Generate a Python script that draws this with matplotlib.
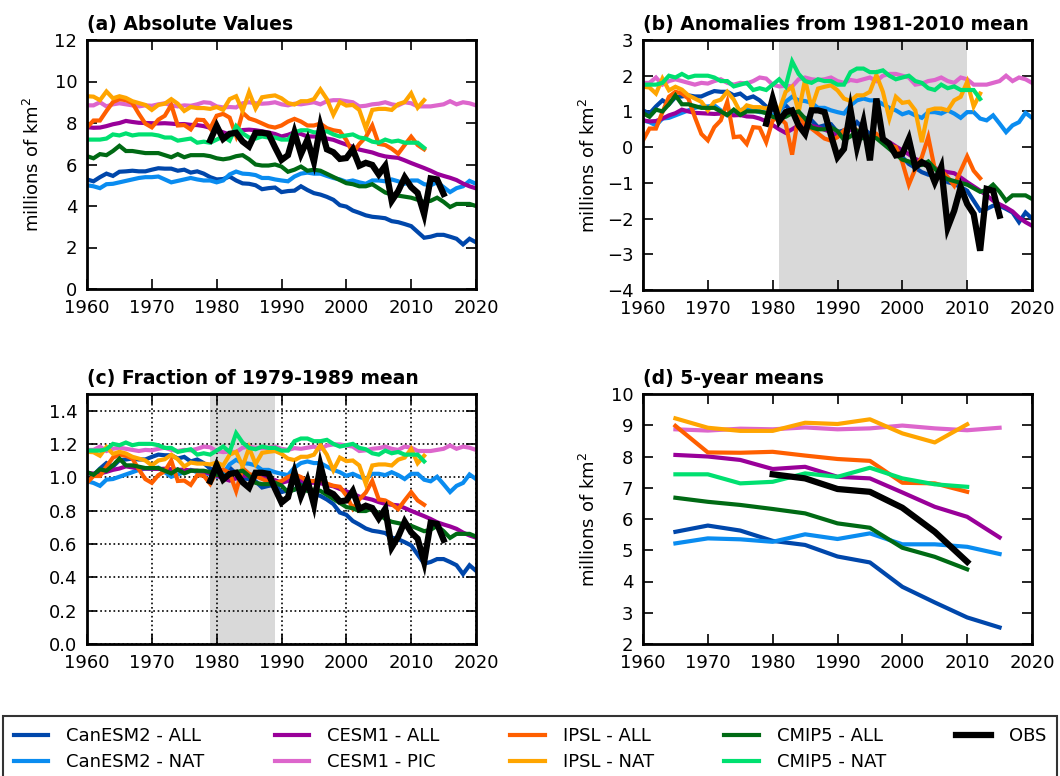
import numpy as np
import matplotlib.pyplot as plt

plt.rcParams['font.family'] = ['DejaVu Sans']
plt.rcParams['font.size'] = 13

years_full = np.arange(1960, 2021)
years_ipsl = np.arange(1960, 2013)
years_obs = np.arange(1979, 2016)

# anomalies (millions of km2) from the 1981-2010 mean of each model's ALL run
canesm2_all = [1.03, 0.94, 1.14, 1.31, 1.2, 1.4, 1.42, 1.45, 1.42, 1.42,
               1.5, 1.57, 1.55, 1.55, 1.45, 1.5, 1.36, 1.42, 1.31, 1.14,
               1.03, 1.05, 1.17, 0.98, 0.84, 0.82, 0.75, 0.56, 0.61, 0.64,
               0.42, 0.47, 0.49, 0.7, 0.52, 0.37, 0.3, 0.19, 0.05, -0.21,
               -0.28, -0.47, -0.58, -0.7, -0.77, -0.8, -0.84, -0.98, -1.03, -1.12,
               -1.22, -1.5, -1.78, -1.73, -1.64, -1.64, -1.73, -1.83, -2.1, -1.83,
               -2.0]
canesm2_nat = [0.75, 0.7, 0.61, 0.8, 0.82, 0.89, 0.96, 1.03, 1.1, 1.14,
               1.14, 1.17, 1.03, 0.89, 0.96, 1.03, 1.1, 1.03, 0.98, 0.98,
               0.89, 0.98, 1.27, 1.41, 1.31, 1.29, 1.24, 1.1, 1.1, 1.03,
               0.98, 0.94, 1.17, 1.31, 1.36, 1.31, 1.31, 1.2, 1.1, 1.03,
               0.92, 0.98, 0.89, 0.82, 0.98, 0.98, 0.94, 1.03, 0.94, 0.82,
               0.98, 0.98, 0.8, 0.75, 0.89, 0.66, 0.42, 0.61, 0.7, 0.96,
               0.82]
cesm1_all = [0.75, 0.72, 0.73, 0.8, 0.89, 0.95, 1.05, 1.0, 0.96, 0.95,
             0.94, 0.93, 0.94, 0.92, 0.89, 0.9, 0.86, 0.85, 0.8, 0.72,
             0.62, 0.5, 0.4, 0.5, 0.61, 0.63, 0.6, 0.55, 0.49, 0.42,
             0.3, 0.38, 0.5, 0.42, 0.3, 0.3, 0.28, 0.2, 0.14, 0.02,
             -0.09, -0.2, -0.33, -0.4, -0.47, -0.58, -0.66, -0.7, -0.73, -0.85,
             -0.98, -1.1, -1.22, -1.35, -1.5, -1.6, -1.69, -1.8, -1.97, -2.1,
             -2.2]
cesm1_pic = [1.8, 1.8, 1.95, 1.75, 1.85, 1.9, 1.85, 1.8, 1.75, 1.8,
             1.78, 1.85, 1.9, 1.8, 1.75, 1.8, 1.78, 1.85, 1.95, 1.92,
             1.75, 1.7, 1.72, 1.7, 1.9, 1.95, 1.9, 1.88, 1.9, 1.95,
             1.85, 1.8, 1.88, 1.85, 1.9, 1.95, 1.85, 2.0, 2.05, 2.05,
             2.0, 1.95, 1.75, 1.78, 1.85, 1.88, 1.95, 1.85, 1.8, 1.95,
             1.9, 1.75, 1.75, 1.75, 1.8, 1.85, 2.0, 1.85, 1.95, 1.9,
             1.8]
ipsl_all = [0.19, 0.52, 0.52, 0.98, 1.41, 1.55, 1.5, 1.36, 0.84, 0.37,
            0.19, 0.56, 0.75, 1.27, 0.28, 0.3, 0.09, 0.56, 0.54, 0.14,
            0.75, 0.84, 0.66, -0.21, 0.9, 0.62, 0.52, 0.38, 0.24, 0.18,
            0.28, 0.47, 0.6, 0.47, 0.28, 0.28, 0.37, 0.15, 0.05, 0.0,
            -0.42, -1.05, -0.61, -0.28, 0.28, -0.61, -0.66, -0.84, -1.08, -0.66,
            -0.26, -0.66, -0.87]
ipsl_nat = [1.69, 1.67, 1.5, 1.92, 1.59, 1.69, 1.61, 1.45, 1.36, 1.27,
            1.03, 1.27, 1.33, 1.55, 1.33, 0.98, 1.17, 1.12, 1.12, 1.08,
            1.17, 1.03, 1.55, 1.69, 0.98, 1.89, 1.1, 1.64, 1.69, 1.73,
            1.59, 1.36, 1.29, 1.45, 1.45, 1.55, 2.02, 1.55, 0.8, 1.41,
            1.24, 1.27, 1.03, 0.14, 1.03, 1.08, 1.08, 1.03, 1.31, 1.41,
            1.83, 1.14, 1.5]
cmip5_all = [0.95, 0.85, 1.05, 1.0, 1.2, 1.45, 1.2, 1.2, 1.15, 1.1,
             1.1, 1.1, 1.0, 0.9, 1.05, 0.9, 1.0, 1.0, 1.0, 0.95,
             0.85, 0.8, 0.85, 0.95, 1.0, 0.8, 0.55, 0.5, 0.5, 0.55,
             0.45, 0.2, 0.3, 0.45, 0.25, 0.3, 0.25, 0.1, -0.05, -0.2,
             -0.35, -0.4, -0.5, -0.5, -0.4, -0.6, -0.8, -0.9, -0.95, -1.0,
             -1.05, -1.15, -1.25, -1.2, -1.05, -1.25, -1.5, -1.35, -1.35, -1.35,
             -1.45]
cmip5_nat = [1.75, 1.75, 1.75, 1.8, 2.0, 1.95, 2.05, 1.95, 2.0, 2.0,
             2.0, 1.95, 1.85, 1.85, 1.7, 1.75, 1.8, 1.6, 1.65, 1.6,
             1.75, 1.9, 1.7, 2.4, 2.05, 1.85, 1.8, 1.9, 1.85, 1.85,
             1.75, 1.75, 2.1, 2.2, 2.2, 2.1, 2.1, 2.15, 2.0, 1.9,
             1.95, 2.0, 1.85, 1.8, 1.65, 1.6, 1.75, 1.65, 1.7, 1.6,
             1.6, 1.6, 1.35]
obs = [0.66, 1.36, 0.73, 0.98, 1.03, 0.61, 0.37, 1.03, 1.03, 0.98,
       0.33, -0.28, -0.05, 1.05, 0.0, 0.7, -0.37, 1.36, 0.23, 0.09,
       -0.23, -0.19, 0.23, -0.56, -0.42, -0.52, -0.98, -0.56, -2.25, -1.78,
       -1.12, -1.59, -1.87, -2.9, -1.17, -1.22, -1.92]

# 1981-2010 mean extent of each ALL run and of OBS (millions of km2)
base_canesm2 = 4.25
base_cesm1 = 7.05
base_ipsl = 7.6
base_cmip5 = 5.45
base_obs = 6.5

# 5-year means, panel (d)
yrs5_long = [1965, 1970, 1975, 1980, 1985, 1990, 1995, 2000, 2005, 2010, 2015]
yrs5_short = [1965, 1970, 1975, 1980, 1985, 1990, 1995, 2000, 2005, 2010]
yrs5_obs = [1980, 1985, 1990, 1995, 2000, 2005, 2010]
d_canesm2_all = [5.59, 5.79, 5.63, 5.3, 5.17, 4.8, 4.61, 3.83, 3.33, 2.85, 2.53]
d_canesm2_nat = [5.22, 5.38, 5.35, 5.27, 5.51, 5.36, 5.54, 5.19, 5.19, 5.11, 4.88]
d_cesm1_all = [8.05, 8.0, 7.89, 7.6, 7.67, 7.35, 7.3, 6.85, 6.39, 6.07, 5.41]
d_cesm1_pic = [8.87, 8.83, 8.89, 8.87, 8.93, 8.87, 8.9, 8.99, 8.9, 8.84, 8.92]
d_ipsl_all = [8.98, 8.13, 8.12, 8.15, 8.03, 7.92, 7.86, 7.16, 7.14, 6.87]
d_ipsl_nat = [9.22, 8.92, 8.82, 8.82, 9.08, 9.04, 9.19, 8.74, 8.45, 9.03]
d_cmip5_all = [6.68, 6.55, 6.45, 6.32, 6.18, 5.86, 5.72, 5.08, 4.79, 4.39]
d_cmip5_nat = [7.43, 7.43, 7.14, 7.19, 7.46, 7.35, 7.64, 7.3, 7.11, 7.03]
d_obs = [7.43, 7.3, 6.96, 6.87, 6.36, 5.59, 4.63]


def ref_1979_1989(years, anom, base):
    vals = np.asarray(anom) + base
    sel = (years >= 1979) & (years <= 1989)
    return vals[sel].mean()


# label, years, anomaly, base, ALL run used for panel (c), colour, lw, 5-yr x, 5-yr y
series = [
    ('CanESM2 - ALL', years_full, canesm2_all, base_canesm2, (years_full, canesm2_all), '#0047ab', 3, yrs5_long, d_canesm2_all),
    ('CanESM2 - NAT', years_full, canesm2_nat, base_canesm2, (years_full, canesm2_all), '#0a8cf0', 3, yrs5_long, d_canesm2_nat),
    ('CESM1 - ALL', years_full, cesm1_all, base_cesm1, (years_full, cesm1_all), '#990099', 3, yrs5_long, d_cesm1_all),
    ('CESM1 - PIC', years_full, cesm1_pic, base_cesm1, (years_full, cesm1_all), '#dd66cc', 3, yrs5_long, d_cesm1_pic),
    ('IPSL - ALL', years_ipsl, ipsl_all, base_ipsl, (years_ipsl, ipsl_all), '#ff5f00', 3, yrs5_short, d_ipsl_all),
    ('IPSL - NAT', years_ipsl, ipsl_nat, base_ipsl, (years_ipsl, ipsl_all), '#ffa500', 3, yrs5_short, d_ipsl_nat),
    ('CMIP5 - ALL', years_full, cmip5_all, base_cmip5, (years_full, cmip5_all), '#006a14', 3, yrs5_short, d_cmip5_all),
    ('CMIP5 - NAT', years_ipsl, cmip5_nat, base_cmip5, (years_full, cmip5_all), '#00e070', 3, yrs5_short, d_cmip5_nat),
    ('OBS', years_obs, obs, base_obs, (years_obs, obs), 'black', 4.5, yrs5_obs, d_obs),
]

W, H = 1060, 776
fig = plt.figure(figsize=(W / 100, H / 100), dpi=100)


def px_axes(left, top, right, bottom):
    return fig.add_axes([left / W, 1 - bottom / H, (right - left) / W, (bottom - top) / H])


ax_a = px_axes(87, 40, 476, 289)
ax_b = px_axes(643, 40, 1032, 290)
ax_c = px_axes(87, 394, 476, 644)
ax_d = px_axes(643, 394, 1032, 644)

ax_b.axvspan(1981, 2010, color='#d9d9d9', lw=0, zorder=0)
ax_c.axvspan(1979, 1989, color='#d9d9d9', lw=0, zorder=0)

handles = []
for label, yrs, anom, base, ref_run, color, lw, x5, y5 in series:
    anom = np.asarray(anom)
    absolute = anom + base
    ref = ref_1979_1989(ref_run[0], ref_run[1], base)
    h, = ax_a.plot(yrs, absolute, color=color, lw=lw, label=label, solid_joinstyle='miter')
    ax_b.plot(yrs, anom, color=color, lw=lw, solid_joinstyle='miter')
    ax_c.plot(yrs, absolute / ref, color=color, lw=lw, solid_joinstyle='miter')
    ax_d.plot(x5, y5, color=color, lw=lw)
    handles.append(h)

ax_a.set_ylim(0, 12)
ax_a.set_yticks(range(0, 13, 2))
ax_b.set_ylim(-4, 3)
ax_b.set_yticks(range(-4, 4))
ax_c.set_ylim(0, 1.5)
ax_c.set_yticks(np.arange(0, 1.41, 0.2))
ax_c.set_yticklabels(['%.1f' % v for v in np.arange(0, 1.41, 0.2)])
ax_c.grid(True, color='black', linestyle=':', lw=1.2, zorder=0.5)
ax_d.set_ylim(2, 10)
ax_d.set_yticks(range(2, 11))

titles = ['(a) Absolute Values', '(b) Anomalies from 1981-2010 mean',
          '(c) Fraction of 1979-1989 mean', '(d) 5-year means']
for ax, t in zip([ax_a, ax_b, ax_c, ax_d], titles):
    ax.set_xlim(1960, 2020)
    ax.set_xticks(range(1960, 2021, 10))
    ax.set_title(t, loc='left', fontweight='bold', fontsize=13.5, pad=7)
    ax.tick_params(direction='in', top=True, right=True, length=7, width=1.2, pad=7, labelsize=13)
    for sp in ax.spines.values():
        sp.set_linewidth(2)

for ax in [ax_a, ax_b, ax_d]:
    ax.set_ylabel('millions of km$^2$', fontsize=13)
    ax.yaxis.set_label_coords(-0.112, 0.5)

leg = fig.legend(handles=handles, loc='upper left', ncol=5, mode='expand',
                 bbox_to_anchor=(3 / W, 0, 1054 / W, 1 - 716 / H), borderaxespad=0,
                 fontsize=13, handlelength=1.9, handletextpad=1.0,
                 labelspacing=0.45, borderpad=0.6, fancybox=False, frameon=True)
leg.get_frame().set_edgecolor('black')
leg.get_frame().set_linewidth(1.5)

fig.savefig('out.png', dpi=100)
